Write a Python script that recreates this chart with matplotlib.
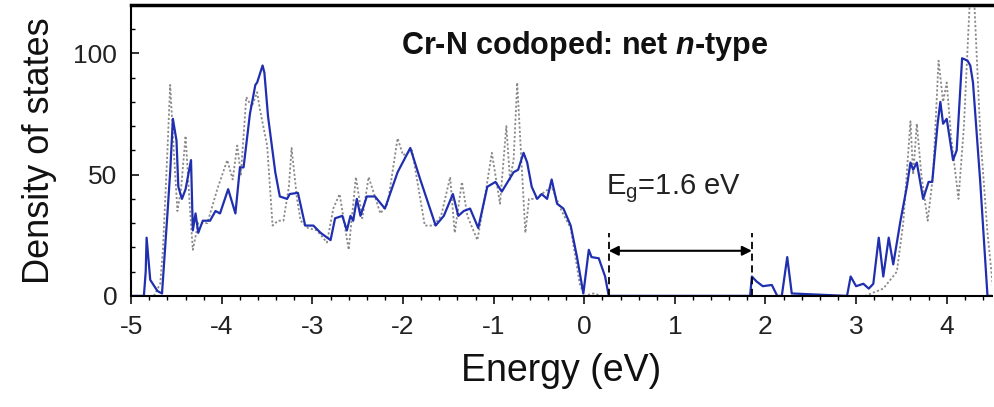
import matplotlib
matplotlib.use('Agg')
import matplotlib.pyplot as plt
from matplotlib.ticker import MultipleLocator

plt.rcParams['font.family'] = ['Liberation Sans', 'DejaVu Sans']
plt.rcParams['axes.unicode_minus'] = False
plt.rcParams['mathtext.fontset'] = 'custom'
plt.rcParams['mathtext.rm'] = 'Liberation Sans'
plt.rcParams['mathtext.it'] = 'Liberation Sans:italic'
plt.rcParams['mathtext.bf'] = 'Liberation Sans:bold'
plt.rcParams['mathtext.bfit'] = 'Liberation Sans:italic:bold'

# codoped DOS (solid blue)
energy_codoped = [-5.0, -4.86, -4.84, -4.83, -4.79, -4.71, -4.66, -4.60, -4.57, -4.54,
                  -4.50, -4.48, -4.44, -4.40, -4.34, -4.32, -4.29, -4.26, -4.21, -4.13,
                  -4.07, -4.02, -3.93, -3.85, -3.80, -3.76, -3.69, -3.63, -3.61, -3.55,
                  -3.53, -3.49, -3.41, -3.36, -3.28, -3.25, -3.16, -3.08, -2.99, -2.91,
                  -2.80, -2.75, -2.67, -2.62, -2.58, -2.55, -2.51, -2.47, -2.40, -2.31,
                  -2.20, -2.06, -1.92, -1.81, -1.64, -1.55, -1.45, -1.39, -1.33, -1.26,
                  -1.17, -1.07, -0.98, -0.91, -0.78, -0.73, -0.67, -0.63, -0.58, -0.52,
                  -0.47, -0.41, -0.36, -0.30, -0.23, -0.15, -0.08, -0.01, 0.05, 0.08,
                  0.16, 0.23, 0.27, 1.83, 1.85, 1.90, 1.97, 2.07, 2.13, 2.18,
                  2.24, 2.29, 2.90, 2.94, 3.00, 3.08, 3.14, 3.19, 3.25, 3.30,
                  3.36, 3.41, 3.49, 3.56, 3.60, 3.63, 3.67, 3.74, 3.80, 3.84,
                  3.90, 3.93, 3.96, 4.00, 4.07, 4.11, 4.17, 4.23, 4.26, 4.29,
                  4.37, 4.45, 4.50]
dos_codoped = [0, 0, 10, 24, 6.6, 2, 1, 34, 51, 73,
               64, 45, 40, 44, 56, 27, 34, 26, 31, 31,
               35, 34, 44, 34, 53, 53, 75, 87, 88, 95,
               92, 74, 51, 41, 40, 42, 42.5, 29, 29, 26,
               23, 32, 33, 27, 33, 31, 40, 33, 41, 41,
               36, 51, 61, 48, 29, 33, 42, 33, 35, 36,
               28, 45, 47, 43, 51, 52, 59, 55, 45, 40,
               42, 40, 48, 38, 36, 29, 16, 1, 19, 16,
               15.5, 8, 0, 0, 8, 6, 4, 4.5, 0, 0,
               16, 1, 0, 8, 4, 5, 3, 5, 24, 8,
               24, 13, 31, 45, 55, 52, 55, 40, 47, 47,
               71, 80, 71, 73, 56, 60, 98, 97, 95, 88,
               47, 0, 0]

# pure host DOS (grey dotted)
energy_host = [-4.75, -4.68, -4.65, -4.60, -4.57, -4.53, -4.49, -4.45, -4.40, -4.35,
               -4.32, -4.26, -4.16, -4.05, -3.94, -3.88, -3.83, -3.79, -3.73, -3.67,
               -3.61, -3.58, -3.50, -3.44, -3.38, -3.32, -3.26, -3.23, -3.17, -3.13,
               -3.05, -2.95, -2.84, -2.77, -2.70, -2.60, -2.52, -2.45, -2.38, -2.25,
               -2.17, -2.06, -2.00, -1.90, -1.76, -1.66, -1.58, -1.48, -1.43, -1.35,
               -1.29, -1.18, -1.10, -1.02, -0.93, -0.86, -0.82, -0.78, -0.74, -0.70,
               -0.65, -0.61, -0.55, -0.47, -0.36, -0.25, -0.15, -0.05, 0.0, 0.1,
               0.2, 3.1, 3.3, 3.45, 3.52, 3.60, 3.63, 3.67, 3.72, 3.79,
               3.85, 3.91, 3.96, 4.00, 4.05, 4.13, 4.19, 4.24, 4.26, 4.30,
               4.37, 4.45, 4.52]
dos_host = [0, 5, 19, 60, 87, 60, 35, 44, 66, 35,
            19, 30, 30, 44, 56, 48, 62, 50, 82, 78,
            84, 77, 62, 29, 31, 31, 45, 61, 40, 31,
            28, 27, 22, 36, 42, 19, 49, 32, 49, 34,
            38, 65, 58, 60, 29, 29, 33, 49, 26, 47,
            33, 23, 40, 59, 38, 70, 48, 56, 88, 60,
            26, 40, 40, 42, 45, 35, 28, 5, 0, 1,
            0, 0, 3, 10, 30, 72, 50, 71, 50, 31,
            50, 97, 80, 88, 65, 40, 70, 110, 125, 125,
            67, 26, 0]

gap_edges = [0.27, 1.85]
gap_label = r'E$_\mathregular{g}$=1.6 eV'

fig = plt.figure(figsize=(9.94, 4.07), dpi=100)
ax = fig.add_axes([0.132, 0.273, 0.866, 0.715])

ax.plot(energy_host, dos_host, color='#8a8a8a', lw=1.3, linestyle=(0, (1.2, 1.2)))
ax.plot(energy_codoped, dos_codoped, color='#1f2fb0', lw=1.6)

# band gap marker
for xe in gap_edges:
    ax.plot([xe, xe], [0, 26], color='black', lw=1.3, linestyle=(0, (4, 2.5)))
ax.annotate('', xy=(gap_edges[0], 18.6), xytext=(gap_edges[1], 18.6),
            arrowprops=dict(arrowstyle='<|-|>', color='black', lw=1.5,
                            mutation_scale=14, shrinkA=0, shrinkB=0))
ax.text(0.98, 44, gap_label, fontsize=21, ha='center', va='center', color='#222222')
ax.text(0.0, 103, r'Cr-N codoped: net $\mathbfit{n}$-type', fontsize=22,
        fontweight='bold', ha='center', va='center', color='#111111')

ax.set_xlim(-5, 4.5)
ax.set_ylim(0, 120)
ax.xaxis.set_major_locator(MultipleLocator(1))
ax.xaxis.set_minor_locator(MultipleLocator(0.2))
ax.yaxis.set_major_locator(MultipleLocator(50))
ax.yaxis.set_minor_locator(MultipleLocator(10))
ax.tick_params(axis='x', which='major', direction='out', length=6, width=1.3,
               labelsize=19, pad=8, colors='#222222')
ax.tick_params(axis='x', which='minor', direction='out', length=3, width=1.0)
ax.tick_params(axis='y', which='major', direction='in', length=6, width=1.3,
               labelsize=19, pad=10, colors='#222222')
ax.tick_params(axis='y', which='minor', direction='in', length=3, width=1.0)

ax.spines['right'].set_visible(False)
ax.spines['top'].set_linewidth(2.5)
ax.spines['left'].set_linewidth(1.5)
ax.spines['bottom'].set_linewidth(1.5)

ax.set_xlabel('Energy (eV)', fontsize=27, color='#111111', labelpad=10)
ax.set_ylabel('Density of states', fontsize=26, color='#111111', labelpad=12)

fig.savefig('out.png', dpi=100)
